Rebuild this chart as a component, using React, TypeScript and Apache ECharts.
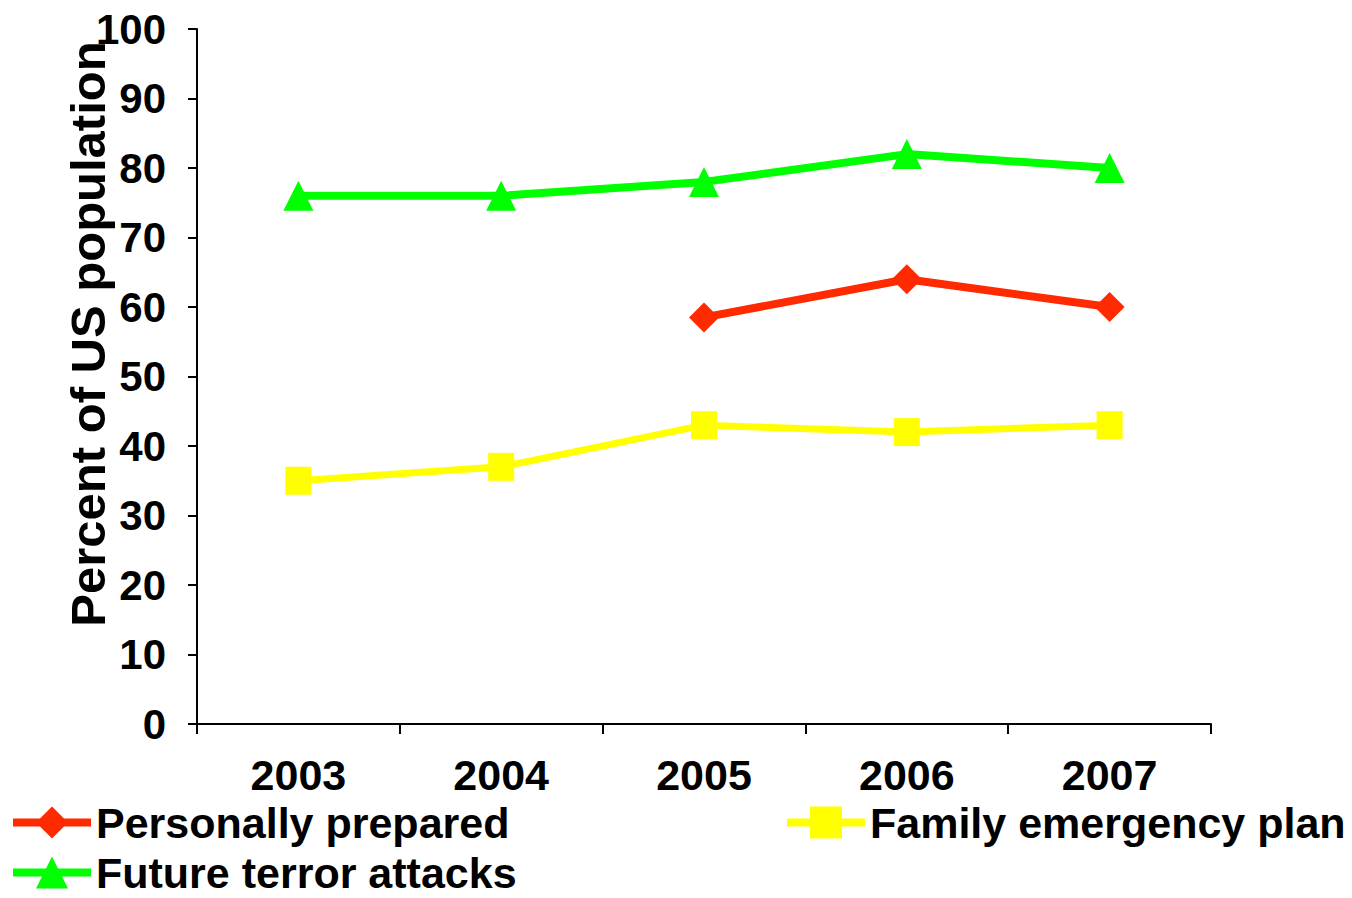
import React, { useEffect, useRef } from "react";
import * as echarts from "echarts";

// Survey years and the share of the US population for each measure
const years = ["2003", "2004", "2005", "2006", "2007"];
const personallyPrepared: (number | null)[] = [null, null, 58.5, 64, 60];
const familyPlan: number[] = [35, 37, 43, 42, 43];
const futureTerror: number[] = [76, 76, 78, 82, 80];

const yTicks = { min: 0, max: 100, interval: 10 };

const FONT = "'Liberation Sans', Arial, Helvetica, sans-serif";
const RED = "#FF2A00";
const YELLOW = "#FFFF00";
const GREEN = "#00FF00";

export default function App() {
  const ref = useRef<HTMLDivElement>(null);

  useEffect(() => {
    if (!ref.current) return;
    const chart = echarts.init(ref.current, undefined, { renderer: "svg" });

    const legendText = {
      fontFamily: FONT,
      fontWeight: "bold" as const,
      fontSize: 43,
      lineHeight: 34,
      color: "#000",
    };
    const legendBase = {
      orient: "horizontal" as const,
      padding: 0,
      itemWidth: 78,
      itemHeight: 40,
      textStyle: legendText,
      lineStyle: { width: 8 },
      selectedMode: false,
    };

    chart.setOption({
      animation: false,
      backgroundColor: "#fff",
      grid: { left: 197, right: 141, top: 29, bottom: 174, containLabel: false },
      xAxis: {
        type: "category",
        data: years,
        boundaryGap: true,
        axisLine: { show: true, lineStyle: { color: "#000", width: 2 } },
        axisTick: { show: true, length: 10, lineStyle: { color: "#000", width: 2 } },
        axisLabel: {
          margin: 33,
          color: "#000",
          fontFamily: FONT,
          fontWeight: "bold",
          fontSize: 43,
          lineHeight: 36,
        },
        splitLine: { show: false },
      },
      yAxis: {
        type: "value",
        min: yTicks.min,
        max: yTicks.max,
        interval: yTicks.interval,
        axisLine: { show: true, lineStyle: { color: "#000", width: 2 } },
        axisTick: { show: true, inside: false, length: 9, lineStyle: { color: "#000", width: 2 } },
        axisLabel: {
          margin: 31,
          color: "#000",
          fontFamily: FONT,
          fontWeight: "bold",
          fontSize: 42,
        },
        splitLine: { show: false },
      },
      legend: [
        { ...legendBase, left: 9, top: 801, data: ["Personally prepared"] },
        { ...legendBase, left: 783, top: 801, data: ["Family emergency plan"] },
        { ...legendBase, left: 9, top: 851, data: ["Future terror attacks"] },
      ],
      graphic: [
        {
          type: "text",
          x: 88,
          y: 334,
          rotation: Math.PI / 2,
          style: {
            text: "Percent of US population",
            fontFamily: FONT,
            fontWeight: "bold",
            fontSize: 49,
            fill: "#000",
            align: "center",
            verticalAlign: "middle",
          },
        },
      ],
      series: [
        {
          name: "Personally prepared",
          type: "line",
          data: personallyPrepared,
          symbol: "diamond",
          symbolSize: 30,
          lineStyle: { color: RED, width: 8 },
          itemStyle: { color: RED },
          z: 3,
        },
        {
          name: "Family emergency plan",
          type: "line",
          data: familyPlan,
          symbol: "rect",
          symbolSize: [26, 28],
          lineStyle: { color: YELLOW, width: 7 },
          itemStyle: { color: YELLOW },
          z: 2,
        },
        {
          name: "Future terror attacks",
          type: "line",
          data: futureTerror,
          symbol: "triangle",
          symbolSize: 30,
          lineStyle: { color: GREEN, width: 8 },
          itemStyle: { color: GREEN },
          z: 4,
        },
      ],
    });

    return () => chart.dispose();
  }, []);

  return <div ref={ref} style={{ width: 1352, height: 898, position: "absolute", left: 0, top: 0 }} />;
}
